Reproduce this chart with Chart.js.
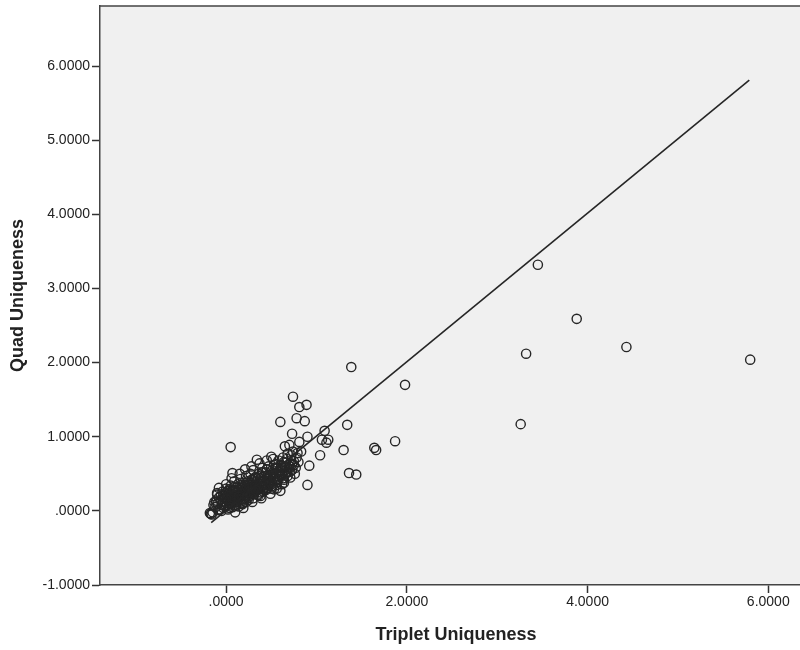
<!DOCTYPE html>
<html>
<head>
<meta charset="utf-8">
<script src="https://cdn.jsdelivr.net/npm/chart.js@4"></script>
<style>
  html, body { margin: 0; padding: 0; background: #fff; overflow: hidden; }
  #wrap { width: 800px; height: 650px; overflow: hidden; }
</style>
</head>
<body>
<div id="wrap"><canvas id="grafico" width="818" height="650"></canvas></div>
<script>
// === Datos ===
const tripletU = [
  // outliers
  3.45, 3.88, 3.32, 4.43, 5.80, 3.26,
  1.385, 1.98, 1.34, 1.09, 1.13, 1.06, 1.30, 1.64, 1.66, 1.87, 1.04, 1.36, 1.44,
  0.74, 0.81, 0.89, 0.78, 0.87, 0.60, 0.73, 0.81, 0.90, 0.92, 0.90, 0.70, 0.65, 1.11,
  0.05, 0.07, -0.10, -0.18,
  // cluster
  -0.17, -0.15, -0.12, -0.10, -0.09, -0.08, -0.07, -0.06, -0.05, -0.04, -0.03, -0.02, -0.01, 0.00, 0.00,
  0.01, 0.02, 0.02, 0.03, 0.04, 0.05, 0.05, 0.06, 0.07, 0.07, 0.08, 0.09, 0.09, 0.10, 0.10,
  0.11, 0.12, 0.12, 0.13, 0.14, 0.14, 0.15, 0.16, 0.16, 0.17, 0.18, 0.18, 0.19, 0.20, 0.20,
  0.21, 0.22, 0.22, 0.23, 0.24, 0.24, 0.25, 0.26, 0.26, 0.27, 0.28, 0.28, 0.29, 0.30, 0.30,
  0.31, 0.32, 0.32, 0.33, 0.34, 0.34, 0.35, 0.36, 0.36, 0.37, 0.38, 0.39, 0.40, 0.40, 0.41,
  0.42, 0.43, 0.44, 0.45, 0.46, 0.47, 0.48, 0.49, 0.50, 0.50, 0.51, 0.52, 0.53, 0.54, 0.55,
  0.56, 0.57, 0.58, 0.59, 0.60, 0.60, 0.61, 0.62, 0.63, 0.64, 0.65, 0.66, 0.67, 0.68, 0.68,
  0.70, 0.71, 0.72, 0.73, 0.74, 0.75, 0.76, 0.78, 0.80,
  -0.14, -0.11, -0.09, -0.06, -0.04, -0.02, -0.01, 0.01, 0.03, 0.04, 0.06, 0.08, 0.08, 0.10, 0.11,
  0.13, 0.13, 0.15, 0.17, 0.17, 0.19, 0.21, 0.21, 0.23, 0.25, 0.25, 0.27, 0.27, 0.29, 0.31,
  0.31, 0.33, 0.35, 0.35, 0.37, 0.38, 0.39, 0.41, 0.42, 0.44, 0.45, 0.46, 0.47, 0.49, 0.51,
  0.52, 0.54, 0.55, 0.57, 0.58, 0.60, 0.62, 0.63, 0.64, 0.66, 0.69, 0.71, 0.73, 0.77, 0.79,
  -0.13, -0.08, -0.05, -0.03, 0.00, 0.02, 0.04, 0.06, 0.09, 0.11, 0.12, 0.15, 0.16, 0.18, 0.20,
  0.22, 0.23, 0.24, 0.26, 0.28, 0.29, 0.30, 0.32, 0.33, 0.34, 0.36, 0.37, 0.39, 0.40, 0.43,
  0.44, 0.46, 0.48, 0.50, 0.53, 0.55, 0.56, 0.59, 0.61, 0.65, 0.67, 0.70, 0.72, 0.75, 0.83,
  0.02, 0.05, 0.09, 0.14, 0.19, 0.23, 0.27, 0.33, 0.38, 0.42, 0.48, 0.53, 0.58, 0.62, 0.67,
  // borde del grupo
  -0.16, -0.11, 0.00, 0.06, 0.15, 0.21, 0.28, 0.37, 0.45, 0.52,
  0.10, 0.19, 0.29, 0.39, 0.49, 0.56, 0.64
];
const quadU = [
  3.32, 2.59, 2.12, 2.21, 2.04, 1.17,
  1.94, 1.70, 1.16, 1.08, 0.96, 0.96, 0.82, 0.85, 0.82, 0.94, 0.75, 0.51, 0.49,
  1.54, 1.40, 1.43, 1.25, 1.21, 1.20, 1.04, 0.93, 1.00, 0.61, 0.35, 0.89, 0.87, 0.92,
  0.86, 0.51, 0.24, -0.03,
  -0.04, -0.02, 0.05, 0.22, 0.10, 0.31, 0.02, 0.15, 0.08, 0.26, 0.04, 0.18, 0.11, 0.30, 0.06,
  0.21, 0.14, 0.02, 0.25, 0.09, 0.18, 0.34, 0.12, 0.05, 0.28, 0.20, 0.15, 0.40, 0.08, 0.24,
  0.31, 0.18, 0.12, 0.36, 0.22, 0.06, 0.28, 0.16, 0.43, 0.25, 0.10, 0.33, 0.20, 0.38, 0.14,
  0.27, 0.47, 0.22, 0.31, 0.17, 0.40, 0.26, 0.35, 0.20, 0.50, 0.29, 0.42, 0.23, 0.33, 0.55,
  0.38, 0.26, 0.45, 0.31, 0.69, 0.40, 0.22, 0.36, 0.50, 0.29, 0.44, 0.33, 0.58, 0.39, 0.26,
  0.47, 0.36, 0.52, 0.30, 0.43, 0.60, 0.38, 0.49, 0.33, 0.73, 0.55, 0.44, 0.62, 0.40, 0.50,
  0.35, 0.58, 0.68, 0.46, 0.27, 0.55, 0.62, 0.50, 0.72, 0.42, 0.58, 0.65, 0.52, 0.47, 0.77,
  0.60, 0.45, 0.68, 0.55, 0.80, 0.62, 0.50, 0.72, 0.66,
  0.08, 0.14, 0.01, 0.20, 0.13, 0.07, 0.24, 0.17, 0.10, 0.29, 0.19, 0.13, 0.27, 0.17, 0.21,
  0.14, 0.28, 0.19, 0.13, 0.30, 0.24, 0.18, 0.34, 0.24, 0.15, 0.31, 0.27, 0.38, 0.31, 0.22,
  0.43, 0.36, 0.30, 0.45, 0.39, 0.25, 0.48, 0.34, 0.41, 0.37, 0.56, 0.31, 0.46, 0.41, 0.37,
  0.52, 0.47, 0.63, 0.43, 0.53, 0.48, 0.58, 0.44, 0.66, 0.55, 0.62, 0.53, 0.63, 0.58, 0.78,
  0.12, 0.18, 0.00, 0.21, 0.16, 0.27, 0.04, 0.22, 0.32, 0.07, 0.26, 0.19, 0.35, 0.09, 0.29,
  0.12, 0.38, 0.21, 0.30, 0.25, 0.41, 0.17, 0.34, 0.46, 0.28, 0.21, 0.39, 0.32, 0.52, 0.36,
  0.28, 0.48, 0.40, 0.30, 0.45, 0.57, 0.39, 0.50, 0.61, 0.49, 0.70, 0.57, 0.75, 0.67, 0.80,
  0.20, 0.10, 0.26, 0.19, 0.11, 0.33, 0.22, 0.28, 0.20, 0.31, 0.36, 0.29, 0.42, 0.36, 0.51,
  -0.05, 0.12, 0.36, 0.44, 0.50, 0.56, 0.60, 0.64, 0.68, 0.70,
  -0.02, 0.04, 0.12, 0.17, 0.23, 0.30, 0.38
];

// linea de ajuste
const fitX = [-0.165, 5.79];
const fitY = [-0.16, 5.81];

const xTicks = [0, 2, 4, 6];
const yTicks = [-1, 0, 1, 2, 3, 4, 5, 6];

const ctx = document.getElementById('grafico').getContext('2d');

function fmt(v) {
    let s = Number(v).toFixed(4);
    if (s.startsWith('0.')) s = s.slice(1);
    return s;
}

const fondo = {
    id: 'fondo',
    beforeDraw(chart) {
        const a = chart.chartArea;
        const c = chart.ctx;
        c.save();
        c.fillStyle = '#f0f0f0';
        c.fillRect(a.left, a.top, a.right - a.left, a.bottom - a.top);
        c.restore();
    },
    afterDraw(chart) {
        const a = chart.chartArea;
        const c = chart.ctx;
        c.save();
        c.strokeStyle = '#444';
        c.lineWidth = 1.5;
        c.beginPath();
        c.moveTo(a.left, a.top);
        c.lineTo(a.right, a.top);
        c.lineTo(a.right, a.bottom);
        c.stroke();
        c.restore();
    }
};

const puntos = tripletU.map((x, i) => ({ x: x, y: quadU[i] }));
const linea = fitX.map((x, i) => ({ x: x, y: fitY[i] }));

new Chart(ctx, {
    type: 'scatter',
    data: {
        datasets: [
            {
                label: 'Quad Uniqueness',
                data: puntos,
                pointRadius: 4.6,
                pointBorderWidth: 1.4,
                pointBorderColor: '#262626',
                pointBackgroundColor: 'rgba(0,0,0,0)',
                pointHoverRadius: 4.6
            },
            {
                label: 'Fit',
                data: linea,
                showLine: true,
                borderColor: '#262626',
                borderWidth: 1.6,
                pointRadius: 0,
                order: -1
            }
        ]
    },
    options: {
        responsive: false,
        animation: false,
        events: [],
        layout: { padding: { top: 6, right: 2, bottom: 0, left: 0 } },
        plugins: {
            legend: { display: false },
            tooltip: { enabled: false }
        },
        scales: {
            x: {
                type: 'linear',
                min: -1.396,
                max: 6.484,
                afterBuildTicks: (s) => { s.ticks = xTicks.map(v => ({ value: v })); },
                afterFit: (s) => { s.height = 65; s.paddingLeft = 0; s.paddingRight = 0; },
                grid: { drawOnChartArea: false, tickLength: 8, tickColor: '#333', tickWidth: 1.5 },
                border: { color: '#444', width: 1.5 },
                ticks: {
                    callback: (v) => fmt(v),
                    color: '#222',
                    font: { family: 'Liberation Sans, Arial, sans-serif', size: 14 },
                    padding: 1,
                    maxRotation: 0
                },
                title: {
                    display: true,
                    text: 'Triplet Uniqueness',
                    color: '#222',
                    font: { family: 'Liberation Sans, Arial, sans-serif', size: 18, weight: 'bold' },
                    padding: { top: 0, bottom: 4 }
                }
            },
            y: {
                type: 'linear',
                min: -1,
                max: 6.81,
                afterBuildTicks: (s) => { s.ticks = yTicks.map(v => ({ value: v })); },
                afterFit: (s) => { s.width = 100; s.paddingTop = 0; s.paddingBottom = 0; },
                grid: { drawOnChartArea: false, tickLength: 8, tickColor: '#333', tickWidth: 1.5 },
                border: { color: '#444', width: 1.5 },
                ticks: {
                    callback: (v) => fmt(v),
                    color: '#222',
                    font: { family: 'Liberation Sans, Arial, sans-serif', size: 14 },
                    padding: 2
                },
                title: {
                    display: true,
                    text: 'Quad Uniqueness',
                    color: '#222',
                    font: { family: 'Liberation Sans, Arial, sans-serif', size: 18, weight: 'bold' },
                    padding: { top: 7, bottom: 0 }
                }
            }
        }
    },
    plugins: [fondo]
});
</script>
</body>
</html>
